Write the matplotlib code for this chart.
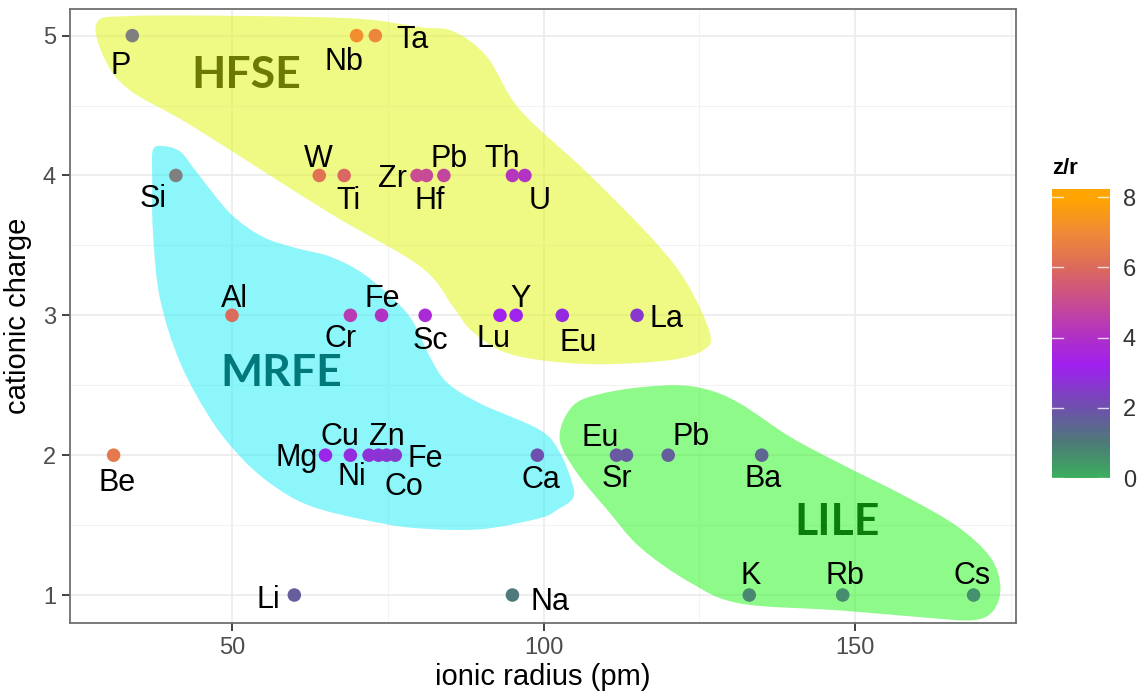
import numpy as np
import matplotlib
matplotlib.use("Agg")
import matplotlib.pyplot as plt
from matplotlib.path import Path
from matplotlib.patches import PathPatch
from matplotlib.colors import LinearSegmentedColormap, Normalize

# element data: ionic radius (pm) and cationic charge
elements = ["P", "Nb", "Ta", "Si", "W", "Ti", "Zr", "Hf", "Pb", "Th", "U",
            "Al", "Cr", "Fe", "Sc", "Lu", "Y", "Eu", "La",
            "Be", "Mg", "Cu", "Ni", "Zn", "Co", "Fe", "Ca",
            "Eu", "Sr", "Pb", "Ba", "Li", "Na", "K", "Rb", "Cs"]
radius = [34, 70, 73, 41, 64, 68, 79.7, 81.2, 84, 95, 97,
          50, 69, 74, 81, 93, 95.6, 103, 115,
          31, 65, 69, 72, 73.5, 74.8, 76.2, 99,
          111.7, 113.3, 120, 135, 60, 95, 133, 148, 169]
charge = [5, 5, 5, 4, 4, 4, 4, 4, 4, 4, 4,
          3, 3, 3, 3, 3, 3, 3, 3,
          2, 2, 2, 2, 2, 2, 2, 2,
          2, 2, 2, 2, 1, 1, 1, 1, 1]

# label offsets in pixels (dx, dy) relative to each point
label_offsets = [(-12, -25), (-13, -21), (37, 1), (-23, -19), (-1, 21),
                 (4, -21), (-25, 1), (3, -21), (5, 21), (-10, 21), (15, -21),
                 (2, 21), (-10, -19), (1, 21), (5, -21), (-6, -19),
                 (4, 21), (16, -23), (29, 1),
                 (3, -23), (-29, 2), (-10, 23), (-17, -17), (8, 23), (17, -27),
                 (30, 1), (4, -20),
                 (-16, 22), (-10, -19), (23, 23), (1, -19), (-26, 0), (38, -2),
                 (1, 24), (2, 24), (-2, 24)]

# group outlines (data units)
hfse_x = [28.3, 33.6, 52.9, 70.5, 80.2, 85.5, 90.9, 96.2, 107.0, 117.6, 123.0,
          126.7, 125.6, 120.3, 109.1, 99.4, 93.0, 88.2, 85.5, 80.2, 65.7,
          43.7, 33.6, 29.6]
hfse_y = [5.09, 5.14, 5.14, 5.12, 5.06, 5.03, 4.85, 4.47, 4.02, 3.54, 3.23,
          2.87, 2.75, 2.68, 2.65, 2.68, 2.75, 2.90, 3.06, 3.35, 3.73,
          4.35, 4.61, 4.83]
mrfe_x = [37.3, 38.9, 41.7, 44.4, 49.7, 55.0, 60.4, 65.7, 71.0, 76.5, 79.1,
          81.8, 84.5, 89.8, 99.4, 102.6, 104.6, 104.7, 102.2, 99.4, 89.8,
          79.1, 71.0, 63.0, 57.7, 52.4, 47.0, 41.7, 38.4, 37.3, 37.2]
mrfe_y = [4.18, 4.21, 4.17, 4.02, 3.73, 3.56, 3.48, 3.42, 3.30, 3.09, 2.95,
          2.70, 2.52, 2.37, 2.18, 2.02, 1.80, 1.69, 1.61, 1.55, 1.47,
          1.48, 1.54, 1.63, 1.75, 1.94, 2.23, 2.66, 3.13, 3.61, 3.97]
lile_x = [102.6, 103.8, 106.3, 112.8, 120.8, 126.2, 131.5, 139.6, 147.6,
          158.3, 166.4, 171.7, 173.3, 172.2, 168.9, 160.9, 147.6, 131.5,
          123.5, 115.5, 110.2, 105.9, 103.1]
lile_y = [2.16, 2.30, 2.40, 2.47, 2.50, 2.47, 2.37, 2.13, 1.94,
          1.70, 1.49, 1.27, 1.06, 0.89, 0.82, 0.84, 0.89, 0.94,
          1.09, 1.34, 1.61, 1.84, 2.04]

group_names = ["HFSE", "MRFE", "LILE"]
group_pos = [(52.3, 4.72), (57.9, 2.59), (147.1, 1.52)]


def smooth_outline(xs, ys):
    pts = np.column_stack([xs, ys])
    n = len(pts)
    verts = [pts[0]]
    codes = [Path.MOVETO]
    for i in range(n):
        p0, p1, p2, p3 = pts[i - 1], pts[i], pts[(i + 1) % n], pts[(i + 2) % n]
        verts += [p1 + (p2 - p0) / 6, p2 - (p3 - p1) / 6, p2]
        codes += [Path.CURVE4] * 3
    return Path(verts, codes)


zr = np.array(charge) / np.array(radius) * 100
cmap = LinearSegmentedColormap.from_list("zr", [
    (0.0, "#3cae5e"), (0.125, "#4e7a78"), (0.25, "#7050ae"), (0.4, "#a020f0"),
    (0.5, "#b030c8"), (0.625, "#c84c92"), (0.75, "#dc6a5c"), (0.875, "#f08a38"),
    (1.0, "#ffa500")])
cmap.set_over("#7f7f7f")
norm = Normalize(0, 8)

plt.rcParams["font.family"] = ["Liberation Sans", "DejaVu Sans"]
fig = plt.figure(figsize=(11.45, 6.95), dpi=100)
ax = fig.add_axes([0.0611, 0.1036, 0.8262, 0.8834])

fills = [("#e0f620", hfse_x, hfse_y), ("#32f62a", lile_x, lile_y),
         ("#2eeff8", mrfe_x, mrfe_y)]
for col, xs, ys in fills:
    ax.add_patch(PathPatch(smooth_outline(xs, ys), facecolor=col, alpha=0.55,
                           edgecolor="none", zorder=1))

ax.scatter(radius, charge, c=zr, cmap=cmap, norm=norm, s=95, zorder=3,
           linewidths=0, plotnonfinite=True)

for name, x, y, (dx, dy) in zip(elements, radius, charge, label_offsets):
    ax.annotate(name, (x, y), xytext=(dx, dy - 5), textcoords="offset pixels",
                ha="center", va="center", fontsize=22, zorder=4)

group_colors = ["#6b7a00", "#00787c", "#0a7d0a"]
for name, (gx, gy), col in zip(group_names, group_pos, group_colors):
    ax.text(gx, gy, name, ha="center", va="center", fontsize=32,
            fontweight="bold", color=col, family="Lato", zorder=2)

ax.set_xlim(24.0, 175.8)
ax.set_ylim(0.80, 5.19)
ax.set_xticks([50, 100, 150])
ax.set_xticks([75, 125, 175], minor=True)
ax.set_yticks([1, 2, 3, 4, 5])
ax.set_yticks([1.5, 2.5, 3.5, 4.5], minor=True)
ax.grid(which="major", color="#ebebeb", lw=1.2, zorder=0)
ax.grid(which="minor", color="#f2f2f2", lw=0.8, zorder=0)
ax.set_axisbelow(True)
ax.tick_params(which="major", length=6, width=1.3, color="#333333",
               labelsize=17, labelcolor="#4d4d4d", pad=4)
ax.tick_params(which="minor", length=0)
for sp in ax.spines.values():
    sp.set_color("#707070")
    sp.set_linewidth(1.3)
ax.set_xlabel("ionic radius (pm)", fontsize=21, labelpad=3)
ax.set_ylabel("cationic charge", fontsize=21, labelpad=8)

# colour bar legend
cax = fig.add_axes([0.9188, 0.3122, 0.0498, 0.4158])
grad = np.clip(np.linspace(0, 8.23, 300), 0, 8).reshape(-1, 1)
cax.imshow(grad, cmap=cmap, norm=norm, aspect="auto", origin="lower",
           extent=[0, 1, 0, 8.23])
cax.set_xlim(0, 1)
cax.set_ylim(0, 8.23)
for t in [0, 2, 4, 6, 8]:
    cax.plot([0, 0.2], [t, t], color="white", lw=1, alpha=0.8)
    cax.plot([0.8, 1], [t, t], color="white", lw=1, alpha=0.8)
cax.set_xticks([])
cax.set_yticks([0, 2, 4, 6, 8])
cax.yaxis.tick_right()
cax.tick_params(length=0, labelsize=17, labelcolor="#333333", pad=10)
for sp in cax.spines.values():
    sp.set_visible(False)
fig.text(0.9188, 0.758, "z/r", fontsize=16, fontweight="bold", ha="left",
         va="center")

fig.savefig("out.png", dpi=100)
